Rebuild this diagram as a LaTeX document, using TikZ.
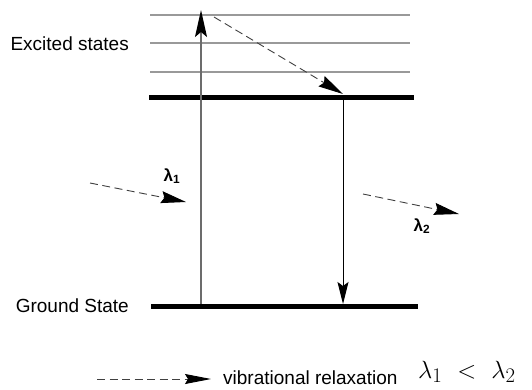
\documentclass[tikz,border=0pt]{standalone}
\usepackage{fontspec}
\setsansfont{Liberation Sans}
\usetikzlibrary{arrows.meta}

\tikzset{
  vlevel/.style={gray!80, line width=1.2pt},
  statebar/.style={black, line width=5pt},
  photon/.style={dashed, dash pattern=on 8pt off 4.5pt, black!75, line width=0.9pt},
  txt/.style={font=\sffamily\fontsize{19}{21}\selectfont, inner sep=0pt},
  lam/.style={font=\sffamily\bfseries\fontsize{17}{19}\selectfont, inner sep=0pt},
  cmpfont/.style={font=\fontsize{30}{34}\selectfont, inner sep=0pt}
}

\begin{document}
\begin{tikzpicture}[x=1pt, y=-1pt, >={Stealth[length=25pt, width=12pt, inset=3pt, black]}]
  \useasboundingbox (0,0) rectangle (532,389);

  % vibrational levels of the excited state
  \foreach \y/\n in {15/a, 43/b, 72/c} {
    \coordinate (v\n0) at (150,\y);
    \coordinate (v\n1) at (410,\y);
    \draw[vlevel] (v\n0) -- (v\n1);
  }

  % excited and ground state
  \coordinate (s0) at (149,97);
  \coordinate (s1) at (414,97);
  \coordinate (g0) at (151,306);
  \coordinate (g1) at (418,306);
  \draw[statebar] (s0) -- (s1);
  \draw[statebar] (g0) -- (g1);

  \node[txt, anchor=east] (exc) at (129,44) {Excited states};
  \node[txt, anchor=east] (gnd) at (129,306) {Ground State};

  % absorption, relaxation, emission
  \coordinate (up0) at (201,304);
  \coordinate (up1) at (201,10);
  \draw[->, gray!85!black, line width=1.4pt, >={Stealth[length=27pt, width=12pt, inset=5pt, black]}] (up0) -- (up1);

  \coordinate (rel0) at (214,17);
  \coordinate (rel1) at (343,94);
  \draw[->, photon] (rel0) -- (rel1);

  \coordinate (dn0) at (343,100);
  \coordinate (dn1) at (343,304);
  \draw[->, line width=1pt, >={Stealth[length=22pt, width=11pt, inset=4pt]}] (dn0) -- (dn1);

  % incoming and outgoing light
  \coordinate (in0) at (90,183);
  \coordinate (in1) at (186,202);
  \draw[->, photon] (in0) -- (in1);
  \node[lam] (lamA) at (172,176) {λ\textsubscript{1}};

  \coordinate (out0) at (363,194);
  \coordinate (out1) at (459,214);
  \draw[->, photon] (out0) -- (out1);
  \node[lam] (lamB) at (422,226) {λ\textsubscript{2}};

  % legend
  \coordinate (key0) at (97,379);
  \coordinate (key1) at (211,379);
  \draw[->, photon, >={Stealth[length=26pt, width=10pt, inset=3pt, black]}] (key0) -- (key1);
  \node[txt, anchor=west] (vr) at (223,378) {vibrational relaxation};
  \node[cmpfont, anchor=base west] (cmp) at (418,378) {$\lambda_1\hspace{15pt}{<}\hspace{15pt}\lambda_2$};
\end{tikzpicture}
\end{document}
